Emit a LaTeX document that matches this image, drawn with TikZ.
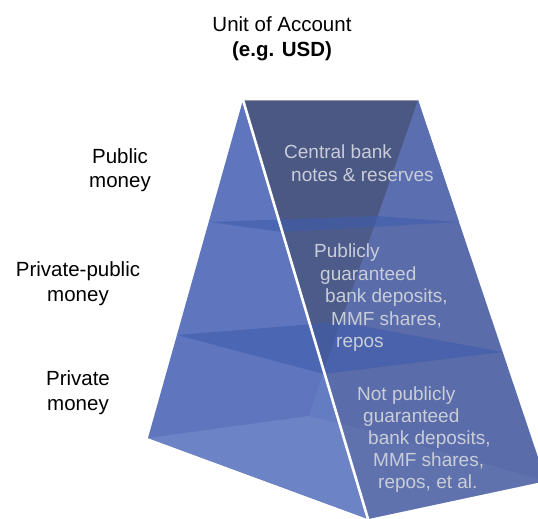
\documentclass[tikz,border=0pt]{standalone}
\usepackage{fontspec}
\setmainfont{Liberation Sans}
\definecolor{frontc}{RGB}{95,118,190}
\definecolor{frontlow}{RGB}{108,131,198}
\definecolor{frontmid}{RGB}{100,124,194}
\definecolor{rightc}{RGB}{90,108,170}
\definecolor{righttop}{RGB}{91,111,176}
\definecolor{darkc}{RGB}{75,88,132}
\definecolor{darkmid}{RGB}{77,91,138}
\definecolor{bandc}{RGB}{62,92,172}
\definecolor{txtgray}{RGB}{200,205,216}
\begin{document}
\begin{tikzpicture}[x=1pt,y=-1pt,
  lbl/.style={font=\fontsize{20.5}{24}\selectfont, text=black, inner sep=0pt, anchor=base},
  inl/.style={font=\fontsize{19}{23}\selectfont, text=txtgray, inner sep=0pt, anchor=base west},
  bandstyle/.style={fill=bandc, fill opacity=0.6, draw=none},
]
\useasboundingbox (0,0) rectangle (538,519);
% key points
\coordinate (A) at (243,100);
\coordinate (B) at (418,100);
\coordinate (L) at (148,438);
\coordinate (F) at (368,519);
\coordinate (R) at (546,481);
\coordinate (Lp) at (309,416);
\coordinate (Z) at (324,370);
\coordinate (X) at (339,423);
\coordinate (P1) at (209,222);
\coordinate (Q1) at (282,232);
\coordinate (R1) at (459,222);
\coordinate (S1) at (377,216);
\coordinate (P2) at (177,335);
\coordinate (Q2) at (324,374);
\coordinate (R2) at (503,352);
\coordinate (S2) at (340,322);

\begin{scope}
\clip (0,0) rectangle (538,519);
% right sloping face
\fill[rightc] (A) -- (B) -- (R) -- (F) -- cycle;
\fill[righttop] (A) -- (B) -- (R1) -- (Q1) -- cycle;
% darker part where hidden faces overlap
\begin{scope}
\clip (A) -- (B) -- (Z) -- cycle;
\fill[darkmid] (Q1) -- (R1) -- (R2) -- (Q2) -- cycle;
\fill[darkc] (A) -- (B) -- (R1) -- (Q1) -- cycle;
\end{scope}
% lower right part (bottom face behind)
\fill[rightc!92!white, opacity=0.5] (X) -- (R) -- (F) -- cycle;
% front face
\fill[frontc] (A) -- (L) -- (F) -- cycle;
\fill[frontmid] (Lp) -- (Z) -- (X) -- cycle;
\fill[frontlow] (L) -- (Lp) -- (X) -- (F) -- cycle;
% layer cross-sections
\fill[bandstyle] (P1) -- (Q1) -- (R1) -- (S1) -- cycle;
\fill[bandstyle] (P2) -- (Q2) -- (R2) -- (S2) -- cycle;
% edges
\draw[gray!60, line width=1pt, opacity=0.7] (A) -- (B);
\draw[white, line width=2.6pt] (A) -- (F);
\end{scope}

% title
\node[lbl] (t1) at (282,32) {Unit of Account};
\node[lbl] (t2) at (282,57) {\bfseries (e.g. USD)};
% left labels
\node[lbl] (pub1) at (120,163) {Public};
\node[lbl] (pub2) at (120,187) {money};
\node[lbl] (pp1) at (78,276) {Private-public};
\node[lbl] (pp2) at (78,301) {money};
\node[lbl] (pr1) at (78,385) {Private};
\node[lbl] (pr2) at (78,410) {money};
% inner labels
\node[inl] (c1) at (284,158) {Central bank};
\node[inl] (c2) at (291,181) {notes \& reserves};
\node[inl] (m1) at (314,257) {Publicly};
\node[inl] (m2) at (320,280) {guaranteed};
\node[inl] (m3) at (325,302) {bank deposits,};
\node[inl] (m4) at (331,325) {MMF shares,};
\node[inl] (m5) at (336,347) {repos};
\node[inl] (n1) at (357,400) {Not publicly};
\node[inl] (n2) at (363,422) {guaranteed};
\node[inl] (n3) at (368,444) {bank deposits,};
\node[inl] (n4) at (373,466) {MMF shares,};
\node[inl] (n5) at (378,488) {repos, et al.};
\end{tikzpicture}
\end{document}
